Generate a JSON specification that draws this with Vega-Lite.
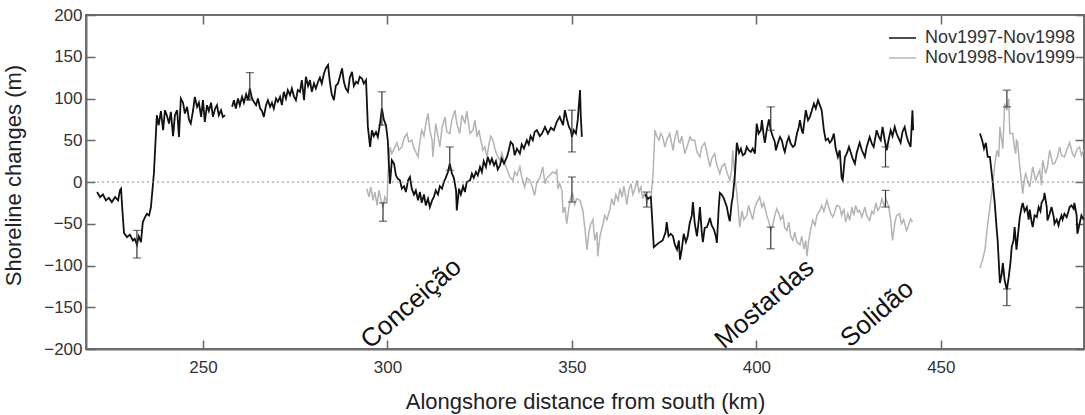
{
  "$schema": "https://vega.github.io/schema/vega-lite/v6.json",
  "width": 998,
  "height": 334,
  "autosize": {"type": "none"},
  "padding": {"left": 86, "top": 15, "right": 1, "bottom": 66},
  "background": "white",
  "config": {
    "font": "Liberation Sans",
    "view": {"stroke": "#6e6e6e", "strokeWidth": 2}
  },
  "datasets": {
    "black": [
      {"period":"Nov1997-Nov1998","seg":"b1","km":221.3,"m":-12},{"period":"Nov1997-Nov1998","seg":"b1","km":222.1,"m":-18},{"period":"Nov1997-Nov1998","seg":"b1","km":222.9,"m":-15},{"period":"Nov1997-Nov1998","seg":"b1","km":223.7,"m":-22},{"period":"Nov1997-Nov1998","seg":"b1","km":224.5,"m":-19},{"period":"Nov1997-Nov1998","seg":"b1","km":225.3,"m":-24},{"period":"Nov1997-Nov1998","seg":"b1","km":226.2,"m":-18},{"period":"Nov1997-Nov1998","seg":"b1","km":227.0,"m":-22},{"period":"Nov1997-Nov1998","seg":"b1","km":227.5,"m":-10},{"period":"Nov1997-Nov1998","seg":"b1","km":227.8,"m":-8},{"period":"Nov1997-Nov1998","seg":"b1","km":228.1,"m":-30},{"period":"Nov1997-Nov1998","seg":"b1","km":228.6,"m":-61},{"period":"Nov1997-Nov1998","seg":"b1","km":229.4,"m":-66},{"period":"Nov1997-Nov1998","seg":"b1","km":230.2,"m":-63},{"period":"Nov1997-Nov1998","seg":"b1","km":231.0,"m":-70},{"period":"Nov1997-Nov1998","seg":"b1","km":231.5,"m":-68},{"period":"Nov1997-Nov1998","seg":"b1","km":232.1,"m":-75},{"period":"Nov1997-Nov1998","seg":"b1","km":232.6,"m":-65},{"period":"Nov1997-Nov1998","seg":"b1","km":233.2,"m":-72},{"period":"Nov1997-Nov1998","seg":"b1","km":233.7,"m":-48},{"period":"Nov1997-Nov1998","seg":"b1","km":234.3,"m":-42},{"period":"Nov1997-Nov1998","seg":"b1","km":234.8,"m":-38},{"period":"Nov1997-Nov1998","seg":"b1","km":235.4,"m":-40},{"period":"Nov1997-Nov1998","seg":"b1","km":235.9,"m":-30},{"period":"Nov1997-Nov1998","seg":"b1","km":236.7,"m":10},{"period":"Nov1997-Nov1998","seg":"b1","km":237.5,"m":80},{"period":"Nov1997-Nov1998","seg":"b1","km":238.0,"m":68},{"period":"Nov1997-Nov1998","seg":"b1","km":238.6,"m":85},{"period":"Nov1997-Nov1998","seg":"b1","km":239.2,"m":62},{"period":"Nov1997-Nov1998","seg":"b1","km":239.7,"m":86},{"period":"Nov1997-Nov1998","seg":"b1","km":240.2,"m":80},{"period":"Nov1997-Nov1998","seg":"b1","km":240.8,"m":70},{"period":"Nov1997-Nov1998","seg":"b1","km":241.3,"m":84},{"period":"Nov1997-Nov1998","seg":"b1","km":241.9,"m":55},{"period":"Nov1997-Nov1998","seg":"b1","km":242.4,"m":80},{"period":"Nov1997-Nov1998","seg":"b1","km":243.0,"m":86},{"period":"Nov1997-Nov1998","seg":"b1","km":243.5,"m":54},{"period":"Nov1997-Nov1998","seg":"b1","km":244.0,"m":100},{"period":"Nov1997-Nov1998","seg":"b1","km":244.6,"m":95},{"period":"Nov1997-Nov1998","seg":"b1","km":245.1,"m":82},{"period":"Nov1997-Nov1998","seg":"b1","km":245.7,"m":90},{"period":"Nov1997-Nov1998","seg":"b1","km":246.2,"m":75},{"period":"Nov1997-Nov1998","seg":"b1","km":246.7,"m":70},{"period":"Nov1997-Nov1998","seg":"b1","km":247.3,"m":85},{"period":"Nov1997-Nov1998","seg":"b1","km":247.8,"m":102},{"period":"Nov1997-Nov1998","seg":"b1","km":248.4,"m":90},{"period":"Nov1997-Nov1998","seg":"b1","km":248.9,"m":95},{"period":"Nov1997-Nov1998","seg":"b1","km":249.5,"m":78},{"period":"Nov1997-Nov1998","seg":"b1","km":250.0,"m":98},{"period":"Nov1997-Nov1998","seg":"b1","km":250.5,"m":72},{"period":"Nov1997-Nov1998","seg":"b1","km":251.1,"m":92},{"period":"Nov1997-Nov1998","seg":"b1","km":251.6,"m":85},{"period":"Nov1997-Nov1998","seg":"b1","km":252.2,"m":95},{"period":"Nov1997-Nov1998","seg":"b1","km":252.7,"m":78},{"period":"Nov1997-Nov1998","seg":"b1","km":253.3,"m":88},{"period":"Nov1997-Nov1998","seg":"b1","km":253.8,"m":92},{"period":"Nov1997-Nov1998","seg":"b1","km":254.3,"m":80},{"period":"Nov1997-Nov1998","seg":"b1","km":254.9,"m":86},{"period":"Nov1997-Nov1998","seg":"b1","km":255.4,"m":78},{"period":"Nov1997-Nov1998","seg":"b1","km":256.0,"m":80},
      {"period":"Nov1997-Nov1998","seg":"b2","km":257.9,"m":90},{"period":"Nov1997-Nov1998","seg":"b2","km":258.4,"m":98},{"period":"Nov1997-Nov1998","seg":"b2","km":258.9,"m":88},{"period":"Nov1997-Nov1998","seg":"b2","km":259.5,"m":100},{"period":"Nov1997-Nov1998","seg":"b2","km":260.0,"m":92},{"period":"Nov1997-Nov1998","seg":"b2","km":260.6,"m":102},{"period":"Nov1997-Nov1998","seg":"b2","km":261.1,"m":95},{"period":"Nov1997-Nov1998","seg":"b2","km":261.7,"m":105},{"period":"Nov1997-Nov1998","seg":"b2","km":262.2,"m":98},{"period":"Nov1997-Nov1998","seg":"b2","km":262.7,"m":112},{"period":"Nov1997-Nov1998","seg":"b2","km":263.3,"m":100},{"period":"Nov1997-Nov1998","seg":"b2","km":263.8,"m":96},{"period":"Nov1997-Nov1998","seg":"b2","km":264.4,"m":92},{"period":"Nov1997-Nov1998","seg":"b2","km":264.9,"m":100},{"period":"Nov1997-Nov1998","seg":"b2","km":265.5,"m":88},{"period":"Nov1997-Nov1998","seg":"b2","km":266.0,"m":85},{"period":"Nov1997-Nov1998","seg":"b2","km":266.5,"m":78},{"period":"Nov1997-Nov1998","seg":"b2","km":267.1,"m":92},{"period":"Nov1997-Nov1998","seg":"b2","km":267.6,"m":98},{"period":"Nov1997-Nov1998","seg":"b2","km":268.2,"m":90},{"period":"Nov1997-Nov1998","seg":"b2","km":268.7,"m":95},{"period":"Nov1997-Nov1998","seg":"b2","km":269.2,"m":88},{"period":"Nov1997-Nov1998","seg":"b2","km":269.8,"m":100},{"period":"Nov1997-Nov1998","seg":"b2","km":270.3,"m":96},{"period":"Nov1997-Nov1998","seg":"b2","km":270.9,"m":102},{"period":"Nov1997-Nov1998","seg":"b2","km":271.4,"m":92},{"period":"Nov1997-Nov1998","seg":"b2","km":271.9,"m":108},{"period":"Nov1997-Nov1998","seg":"b2","km":272.5,"m":100},{"period":"Nov1997-Nov1998","seg":"b2","km":273.0,"m":110},{"period":"Nov1997-Nov1998","seg":"b2","km":273.6,"m":104},{"period":"Nov1997-Nov1998","seg":"b2","km":274.1,"m":112},{"period":"Nov1997-Nov1998","seg":"b2","km":274.7,"m":102},{"period":"Nov1997-Nov1998","seg":"b2","km":275.2,"m":98},{"period":"Nov1997-Nov1998","seg":"b2","km":275.7,"m":110},{"period":"Nov1997-Nov1998","seg":"b2","km":276.3,"m":108},{"period":"Nov1997-Nov1998","seg":"b2","km":276.8,"m":122},{"period":"Nov1997-Nov1998","seg":"b2","km":277.4,"m":98},{"period":"Nov1997-Nov1998","seg":"b2","km":277.9,"m":126},{"period":"Nov1997-Nov1998","seg":"b2","km":278.5,"m":115},{"period":"Nov1997-Nov1998","seg":"b2","km":279.0,"m":122},{"period":"Nov1997-Nov1998","seg":"b2","km":279.5,"m":108},{"period":"Nov1997-Nov1998","seg":"b2","km":280.1,"m":118},{"period":"Nov1997-Nov1998","seg":"b2","km":280.6,"m":112},{"period":"Nov1997-Nov1998","seg":"b2","km":281.2,"m":120},{"period":"Nov1997-Nov1998","seg":"b2","km":281.7,"m":125},{"period":"Nov1997-Nov1998","seg":"b2","km":282.2,"m":118},{"period":"Nov1997-Nov1998","seg":"b2","km":282.8,"m":130},{"period":"Nov1997-Nov1998","seg":"b2","km":283.3,"m":136},{"period":"Nov1997-Nov1998","seg":"b2","km":283.9,"m":140},{"period":"Nov1997-Nov1998","seg":"b2","km":284.4,"m":120},{"period":"Nov1997-Nov1998","seg":"b2","km":284.9,"m":105},{"period":"Nov1997-Nov1998","seg":"b2","km":285.5,"m":98},{"period":"Nov1997-Nov1998","seg":"b2","km":286.0,"m":115},{"period":"Nov1997-Nov1998","seg":"b2","km":286.6,"m":118},{"period":"Nov1997-Nov1998","seg":"b2","km":287.1,"m":126},{"period":"Nov1997-Nov1998","seg":"b2","km":287.7,"m":136},{"period":"Nov1997-Nov1998","seg":"b2","km":288.2,"m":120},{"period":"Nov1997-Nov1998","seg":"b2","km":288.7,"m":112},{"period":"Nov1997-Nov1998","seg":"b2","km":289.3,"m":108},{"period":"Nov1997-Nov1998","seg":"b2","km":289.8,"m":125},{"period":"Nov1997-Nov1998","seg":"b2","km":290.4,"m":132},{"period":"Nov1997-Nov1998","seg":"b2","km":290.9,"m":115},{"period":"Nov1997-Nov1998","seg":"b2","km":291.5,"m":120},{"period":"Nov1997-Nov1998","seg":"b2","km":292.0,"m":118},{"period":"Nov1997-Nov1998","seg":"b2","km":292.5,"m":126},{"period":"Nov1997-Nov1998","seg":"b2","km":293.1,"m":124},{"period":"Nov1997-Nov1998","seg":"b2","km":293.6,"m":118},{"period":"Nov1997-Nov1998","seg":"b2","km":294.2,"m":122},{"period":"Nov1997-Nov1998","seg":"b2","km":294.4,"m":100},{"period":"Nov1997-Nov1998","seg":"b2","km":294.7,"m":66},{"period":"Nov1997-Nov1998","seg":"b2","km":295.3,"m":42},{"period":"Nov1997-Nov1998","seg":"b2","km":295.8,"m":62},{"period":"Nov1997-Nov1998","seg":"b2","km":296.3,"m":55},{"period":"Nov1997-Nov1998","seg":"b2","km":296.9,"m":60},{"period":"Nov1997-Nov1998","seg":"b2","km":297.4,"m":54},{"period":"Nov1997-Nov1998","seg":"b2","km":298.0,"m":70},{"period":"Nov1997-Nov1998","seg":"b2","km":298.5,"m":88},{"period":"Nov1997-Nov1998","seg":"b2","km":299.0,"m":75},{"period":"Nov1997-Nov1998","seg":"b2","km":299.6,"m":68},{"period":"Nov1997-Nov1998","seg":"b2","km":300.1,"m":50},{"period":"Nov1997-Nov1998","seg":"b2","km":300.4,"m":20},{"period":"Nov1997-Nov1998","seg":"b2","km":300.7,"m":-2},{"period":"Nov1997-Nov1998","seg":"b2","km":301.2,"m":26},{"period":"Nov1997-Nov1998","seg":"b2","km":301.8,"m":22},{"period":"Nov1997-Nov1998","seg":"b2","km":302.3,"m":8},{"period":"Nov1997-Nov1998","seg":"b2","km":302.8,"m":4},{"period":"Nov1997-Nov1998","seg":"b2","km":303.4,"m":2},{"period":"Nov1997-Nov1998","seg":"b2","km":303.9,"m":-8},{"period":"Nov1997-Nov1998","seg":"b2","km":304.5,"m":-5},{"period":"Nov1997-Nov1998","seg":"b2","km":305.0,"m":-12},{"period":"Nov1997-Nov1998","seg":"b2","km":305.6,"m":2},{"period":"Nov1997-Nov1998","seg":"b2","km":306.1,"m":6},{"period":"Nov1997-Nov1998","seg":"b2","km":306.6,"m":-8},{"period":"Nov1997-Nov1998","seg":"b2","km":307.2,"m":-15},{"period":"Nov1997-Nov1998","seg":"b2","km":307.7,"m":-10},{"period":"Nov1997-Nov1998","seg":"b2","km":308.3,"m":-22},{"period":"Nov1997-Nov1998","seg":"b2","km":308.8,"m":-12},{"period":"Nov1997-Nov1998","seg":"b2","km":309.3,"m":-25},{"period":"Nov1997-Nov1998","seg":"b2","km":309.9,"m":-15},{"period":"Nov1997-Nov1998","seg":"b2","km":310.4,"m":-28},{"period":"Nov1997-Nov1998","seg":"b2","km":311.0,"m":-20},{"period":"Nov1997-Nov1998","seg":"b2","km":311.5,"m":-30},{"period":"Nov1997-Nov1998","seg":"b2","km":312.1,"m":-22},{"period":"Nov1997-Nov1998","seg":"b2","km":312.6,"m":-18},{"period":"Nov1997-Nov1998","seg":"b2","km":313.1,"m":-10},{"period":"Nov1997-Nov1998","seg":"b2","km":313.7,"m":-15},{"period":"Nov1997-Nov1998","seg":"b2","km":314.2,"m":-5},{"period":"Nov1997-Nov1998","seg":"b2","km":314.8,"m":-8},{"period":"Nov1997-Nov1998","seg":"b2","km":315.3,"m":0},{"period":"Nov1997-Nov1998","seg":"b2","km":315.8,"m":5},{"period":"Nov1997-Nov1998","seg":"b2","km":316.4,"m":12},{"period":"Nov1997-Nov1998","seg":"b2","km":316.9,"m":22},{"period":"Nov1997-Nov1998","seg":"b2","km":317.5,"m":10},{"period":"Nov1997-Nov1998","seg":"b2","km":318.0,"m":5},{"period":"Nov1997-Nov1998","seg":"b2","km":318.6,"m":-10},{"period":"Nov1997-Nov1998","seg":"b2","km":318.8,"m":-34},{"period":"Nov1997-Nov1998","seg":"b2","km":319.4,"m":-8},{"period":"Nov1997-Nov1998","seg":"b2","km":319.9,"m":-15},{"period":"Nov1997-Nov1998","seg":"b2","km":320.5,"m":-5},{"period":"Nov1997-Nov1998","seg":"b2","km":321.0,"m":-12},{"period":"Nov1997-Nov1998","seg":"b2","km":321.5,"m":0},{"period":"Nov1997-Nov1998","seg":"b2","km":322.4,"m":2},{"period":"Nov1997-Nov1998","seg":"b2","km":322.9,"m":10},{"period":"Nov1997-Nov1998","seg":"b2","km":323.4,"m":5},{"period":"Nov1997-Nov1998","seg":"b2","km":324.0,"m":12},{"period":"Nov1997-Nov1998","seg":"b2","km":324.5,"m":8},{"period":"Nov1997-Nov1998","seg":"b2","km":325.1,"m":18},{"period":"Nov1997-Nov1998","seg":"b2","km":325.6,"m":12},{"period":"Nov1997-Nov1998","seg":"b2","km":326.1,"m":25},{"period":"Nov1997-Nov1998","seg":"b2","km":326.7,"m":18},{"period":"Nov1997-Nov1998","seg":"b2","km":327.2,"m":30},{"period":"Nov1997-Nov1998","seg":"b2","km":327.8,"m":22},{"period":"Nov1997-Nov1998","seg":"b2","km":328.3,"m":28},{"period":"Nov1997-Nov1998","seg":"b2","km":328.9,"m":20},{"period":"Nov1997-Nov1998","seg":"b2","km":329.4,"m":25},{"period":"Nov1997-Nov1998","seg":"b2","km":329.9,"m":15},{"period":"Nov1997-Nov1998","seg":"b2","km":330.5,"m":20},{"period":"Nov1997-Nov1998","seg":"b2","km":331.0,"m":28},{"period":"Nov1997-Nov1998","seg":"b2","km":331.6,"m":22},{"period":"Nov1997-Nov1998","seg":"b2","km":332.4,"m":30},{"period":"Nov1997-Nov1998","seg":"b2","km":332.9,"m":38},{"period":"Nov1997-Nov1998","seg":"b2","km":333.4,"m":48},{"period":"Nov1997-Nov1998","seg":"b2","km":334.0,"m":45},{"period":"Nov1997-Nov1998","seg":"b2","km":334.5,"m":32},{"period":"Nov1997-Nov1998","seg":"b2","km":335.1,"m":40},{"period":"Nov1997-Nov1998","seg":"b2","km":335.9,"m":34},{"period":"Nov1997-Nov1998","seg":"b2","km":336.4,"m":45},{"period":"Nov1997-Nov1998","seg":"b2","km":337.0,"m":40},{"period":"Nov1997-Nov1998","seg":"b2","km":337.8,"m":50},{"period":"Nov1997-Nov1998","seg":"b2","km":338.3,"m":45},{"period":"Nov1997-Nov1998","seg":"b2","km":338.8,"m":55},{"period":"Nov1997-Nov1998","seg":"b2","km":339.4,"m":50},{"period":"Nov1997-Nov1998","seg":"b2","km":339.9,"m":60},{"period":"Nov1997-Nov1998","seg":"b2","km":340.5,"m":62},{"period":"Nov1997-Nov1998","seg":"b2","km":341.3,"m":55},{"period":"Nov1997-Nov1998","seg":"b2","km":341.9,"m":58},{"period":"Nov1997-Nov1998","seg":"b2","km":342.7,"m":66},{"period":"Nov1997-Nov1998","seg":"b2","km":343.5,"m":58},{"period":"Nov1997-Nov1998","seg":"b2","km":344.3,"m":65},{"period":"Nov1997-Nov1998","seg":"b2","km":345.1,"m":62},{"period":"Nov1997-Nov1998","seg":"b2","km":345.9,"m":72},{"period":"Nov1997-Nov1998","seg":"b2","km":346.7,"m":78},{"period":"Nov1997-Nov1998","seg":"b2","km":347.6,"m":68},{"period":"Nov1997-Nov1998","seg":"b2","km":348.1,"m":86},{"period":"Nov1997-Nov1998","seg":"b2","km":348.6,"m":76},{"period":"Nov1997-Nov1998","seg":"b2","km":349.2,"m":66},{"period":"Nov1997-Nov1998","seg":"b2","km":349.7,"m":62},{"period":"Nov1997-Nov1998","seg":"b2","km":350.0,"m":54},{"period":"Nov1997-Nov1998","seg":"b2","km":350.5,"m":62},{"period":"Nov1997-Nov1998","seg":"b2","km":351.1,"m":58},{"period":"Nov1997-Nov1998","seg":"b2","km":351.6,"m":75},{"period":"Nov1997-Nov1998","seg":"b2","km":352.2,"m":110},{"period":"Nov1997-Nov1998","seg":"b2","km":352.4,"m":80},{"period":"Nov1997-Nov1998","seg":"b2","km":352.7,"m":54},
      {"period":"Nov1997-Nov1998","seg":"b3","km":369.8,"m":-15},{"period":"Nov1997-Nov1998","seg":"b3","km":370.6,"m":-20},{"period":"Nov1997-Nov1998","seg":"b3","km":371.4,"m":-18},{"period":"Nov1997-Nov1998","seg":"b3","km":372.2,"m":-78},{"period":"Nov1997-Nov1998","seg":"b3","km":373.0,"m":-75},{"period":"Nov1997-Nov1998","seg":"b3","km":373.8,"m":-72},{"period":"Nov1997-Nov1998","seg":"b3","km":374.6,"m":-70},{"period":"Nov1997-Nov1998","seg":"b3","km":375.4,"m":-60},{"period":"Nov1997-Nov1998","seg":"b3","km":375.7,"m":-48},{"period":"Nov1997-Nov1998","seg":"b3","km":376.2,"m":-65},{"period":"Nov1997-Nov1998","seg":"b3","km":376.8,"m":-62},{"period":"Nov1997-Nov1998","seg":"b3","km":377.4,"m":-65},{"period":"Nov1997-Nov1998","seg":"b3","km":377.9,"m":-75},{"period":"Nov1997-Nov1998","seg":"b3","km":378.5,"m":-81},{"period":"Nov1997-Nov1998","seg":"b3","km":379.0,"m":-70},{"period":"Nov1997-Nov1998","seg":"b3","km":379.3,"m":-93},{"period":"Nov1997-Nov1998","seg":"b3","km":379.8,"m":-80},{"period":"Nov1997-Nov1998","seg":"b3","km":380.3,"m":-62},{"period":"Nov1997-Nov1998","seg":"b3","km":380.9,"m":-72},{"period":"Nov1997-Nov1998","seg":"b3","km":381.4,"m":-65},{"period":"Nov1997-Nov1998","seg":"b3","km":381.9,"m":-50},{"period":"Nov1997-Nov1998","seg":"b3","km":382.5,"m":-40},{"period":"Nov1997-Nov1998","seg":"b3","km":382.8,"m":-24},{"period":"Nov1997-Nov1998","seg":"b3","km":383.3,"m":-50},{"period":"Nov1997-Nov1998","seg":"b3","km":383.9,"m":-65},{"period":"Nov1997-Nov1998","seg":"b3","km":384.4,"m":-45},{"period":"Nov1997-Nov1998","seg":"b3","km":384.7,"m":-30},{"period":"Nov1997-Nov1998","seg":"b3","km":385.2,"m":-60},{"period":"Nov1997-Nov1998","seg":"b3","km":385.5,"m":-72},{"period":"Nov1997-Nov1998","seg":"b3","km":386.0,"m":-55},{"period":"Nov1997-Nov1998","seg":"b3","km":386.6,"m":-54},{"period":"Nov1997-Nov1998","seg":"b3","km":387.1,"m":-48},{"period":"Nov1997-Nov1998","seg":"b3","km":387.4,"m":-43},{"period":"Nov1997-Nov1998","seg":"b3","km":387.9,"m":-52},{"period":"Nov1997-Nov1998","seg":"b3","km":388.5,"m":-57},{"period":"Nov1997-Nov1998","seg":"b3","km":389.0,"m":-65},{"period":"Nov1997-Nov1998","seg":"b3","km":389.3,"m":-73},{"period":"Nov1997-Nov1998","seg":"b3","km":389.8,"m":-30},{"period":"Nov1997-Nov1998","seg":"b3","km":390.1,"m":-13},{"period":"Nov1997-Nov1998","seg":"b3","km":390.6,"m":-15},{"period":"Nov1997-Nov1998","seg":"b3","km":391.2,"m":-20},{"period":"Nov1997-Nov1998","seg":"b3","km":392.0,"m":-30},{"period":"Nov1997-Nov1998","seg":"b3","km":392.5,"m":-42},{"period":"Nov1997-Nov1998","seg":"b3","km":392.8,"m":-47},{"period":"Nov1997-Nov1998","seg":"b3","km":393.3,"m":-25},{"period":"Nov1997-Nov1998","seg":"b3","km":393.6,"m":-18},{"period":"Nov1997-Nov1998","seg":"b3","km":394.2,"m":10},{"period":"Nov1997-Nov1998","seg":"b3","km":394.7,"m":47},{"period":"Nov1997-Nov1998","seg":"b3","km":395.3,"m":35},{"period":"Nov1997-Nov1998","seg":"b3","km":395.8,"m":40},{"period":"Nov1997-Nov1998","seg":"b3","km":396.3,"m":32},{"period":"Nov1997-Nov1998","seg":"b3","km":396.9,"m":34},{"period":"Nov1997-Nov1998","seg":"b3","km":397.4,"m":42},{"period":"Nov1997-Nov1998","seg":"b3","km":397.9,"m":38},{"period":"Nov1997-Nov1998","seg":"b3","km":398.5,"m":36},{"period":"Nov1997-Nov1998","seg":"b3","km":399.0,"m":40},{"period":"Nov1997-Nov1998","seg":"b3","km":399.6,"m":34},{"period":"Nov1997-Nov1998","seg":"b3","km":400.1,"m":70},{"period":"Nov1997-Nov1998","seg":"b3","km":400.6,"m":58},{"period":"Nov1997-Nov1998","seg":"b3","km":401.2,"m":62},{"period":"Nov1997-Nov1998","seg":"b3","km":401.5,"m":74},{"period":"Nov1997-Nov1998","seg":"b3","km":402.0,"m":55},{"period":"Nov1997-Nov1998","seg":"b3","km":402.3,"m":47},{"period":"Nov1997-Nov1998","seg":"b3","km":402.8,"m":62},{"period":"Nov1997-Nov1998","seg":"b3","km":403.4,"m":75},{"period":"Nov1997-Nov1998","seg":"b3","km":403.9,"m":62},{"period":"Nov1997-Nov1998","seg":"b3","km":404.4,"m":55},{"period":"Nov1997-Nov1998","seg":"b3","km":405.0,"m":48},{"period":"Nov1997-Nov1998","seg":"b3","km":405.3,"m":38},{"period":"Nov1997-Nov1998","seg":"b3","km":405.8,"m":46},{"period":"Nov1997-Nov1998","seg":"b3","km":406.4,"m":54},{"period":"Nov1997-Nov1998","seg":"b3","km":406.9,"m":50},{"period":"Nov1997-Nov1998","seg":"b3","km":407.4,"m":40},{"period":"Nov1997-Nov1998","seg":"b3","km":407.7,"m":36},{"period":"Nov1997-Nov1998","seg":"b3","km":408.3,"m":48},{"period":"Nov1997-Nov1998","seg":"b3","km":408.8,"m":54},{"period":"Nov1997-Nov1998","seg":"b3","km":409.3,"m":46},{"period":"Nov1997-Nov1998","seg":"b3","km":409.9,"m":42},{"period":"Nov1997-Nov1998","seg":"b3","km":410.4,"m":44},{"period":"Nov1997-Nov1998","seg":"b3","km":411.0,"m":58},{"period":"Nov1997-Nov1998","seg":"b3","km":411.5,"m":66},{"period":"Nov1997-Nov1998","seg":"b3","km":411.8,"m":74},{"period":"Nov1997-Nov1998","seg":"b3","km":412.3,"m":62},{"period":"Nov1997-Nov1998","seg":"b3","km":412.6,"m":58},{"period":"Nov1997-Nov1998","seg":"b3","km":413.1,"m":76},{"period":"Nov1997-Nov1998","seg":"b3","km":413.4,"m":86},{"period":"Nov1997-Nov1998","seg":"b3","km":414.0,"m":74},{"period":"Nov1997-Nov1998","seg":"b3","km":414.5,"m":78},{"period":"Nov1997-Nov1998","seg":"b3","km":415.0,"m":85},{"period":"Nov1997-Nov1998","seg":"b3","km":415.6,"m":94},{"period":"Nov1997-Nov1998","seg":"b3","km":416.1,"m":88},{"period":"Nov1997-Nov1998","seg":"b3","km":416.7,"m":98},{"period":"Nov1997-Nov1998","seg":"b3","km":417.2,"m":92},{"period":"Nov1997-Nov1998","seg":"b3","km":417.7,"m":86},{"period":"Nov1997-Nov1998","seg":"b3","km":418.3,"m":62},{"period":"Nov1997-Nov1998","seg":"b3","km":418.8,"m":50},{"period":"Nov1997-Nov1998","seg":"b3","km":419.4,"m":52},{"period":"Nov1997-Nov1998","seg":"b3","km":419.9,"m":47},{"period":"Nov1997-Nov1998","seg":"b3","km":420.4,"m":50},{"period":"Nov1997-Nov1998","seg":"b3","km":421.0,"m":58},{"period":"Nov1997-Nov1998","seg":"b3","km":421.5,"m":40},{"period":"Nov1997-Nov1998","seg":"b3","km":422.1,"m":30},{"period":"Nov1997-Nov1998","seg":"b3","km":422.6,"m":38},{"period":"Nov1997-Nov1998","seg":"b3","km":423.1,"m":5},{"period":"Nov1997-Nov1998","seg":"b3","km":423.4,"m":2},{"period":"Nov1997-Nov1998","seg":"b3","km":424.0,"m":30},{"period":"Nov1997-Nov1998","seg":"b3","km":424.5,"m":34},{"period":"Nov1997-Nov1998","seg":"b3","km":425.1,"m":42},{"period":"Nov1997-Nov1998","seg":"b3","km":425.6,"m":35},{"period":"Nov1997-Nov1998","seg":"b3","km":426.1,"m":28},{"period":"Nov1997-Nov1998","seg":"b3","km":426.7,"m":22},{"period":"Nov1997-Nov1998","seg":"b3","km":427.2,"m":35},{"period":"Nov1997-Nov1998","seg":"b3","km":428.0,"m":47},{"period":"Nov1997-Nov1998","seg":"b3","km":428.6,"m":38},{"period":"Nov1997-Nov1998","seg":"b3","km":429.4,"m":30},{"period":"Nov1997-Nov1998","seg":"b3","km":429.9,"m":42},{"period":"Nov1997-Nov1998","seg":"b3","km":430.7,"m":54},{"period":"Nov1997-Nov1998","seg":"b3","km":431.3,"m":46},{"period":"Nov1997-Nov1998","seg":"b3","km":431.8,"m":42},{"period":"Nov1997-Nov1998","seg":"b3","km":432.6,"m":62},{"period":"Nov1997-Nov1998","seg":"b3","km":433.2,"m":54},{"period":"Nov1997-Nov1998","seg":"b3","km":433.7,"m":50},{"period":"Nov1997-Nov1998","seg":"b3","km":434.2,"m":66},{"period":"Nov1997-Nov1998","seg":"b3","km":434.8,"m":50},{"period":"Nov1997-Nov1998","seg":"b3","km":435.3,"m":38},{"period":"Nov1997-Nov1998","seg":"b3","km":435.9,"m":52},{"period":"Nov1997-Nov1998","seg":"b3","km":436.4,"m":62},{"period":"Nov1997-Nov1998","seg":"b3","km":436.9,"m":55},{"period":"Nov1997-Nov1998","seg":"b3","km":437.5,"m":66},{"period":"Nov1997-Nov1998","seg":"b3","km":438.0,"m":58},{"period":"Nov1997-Nov1998","seg":"b3","km":438.6,"m":52},{"period":"Nov1997-Nov1998","seg":"b3","km":439.1,"m":47},{"period":"Nov1997-Nov1998","seg":"b3","km":439.6,"m":60},{"period":"Nov1997-Nov1998","seg":"b3","km":440.2,"m":66},{"period":"Nov1997-Nov1998","seg":"b3","km":440.7,"m":55},{"period":"Nov1997-Nov1998","seg":"b3","km":441.2,"m":48},{"period":"Nov1997-Nov1998","seg":"b3","km":441.8,"m":42},{"period":"Nov1997-Nov1998","seg":"b3","km":442.3,"m":86},{"period":"Nov1997-Nov1998","seg":"b3","km":442.5,"m":62},
      {"period":"Nov1997-Nov1998","seg":"b4","km":460.6,"m":58},{"period":"Nov1997-Nov1998","seg":"b4","km":461.2,"m":50},{"period":"Nov1997-Nov1998","seg":"b4","km":461.7,"m":40},{"period":"Nov1997-Nov1998","seg":"b4","km":462.2,"m":47},{"period":"Nov1997-Nov1998","seg":"b4","km":462.7,"m":30},{"period":"Nov1997-Nov1998","seg":"b4","km":463.3,"m":30},{"period":"Nov1997-Nov1998","seg":"b4","km":463.8,"m":10},{"period":"Nov1997-Nov1998","seg":"b4","km":464.1,"m":-2},{"period":"Nov1997-Nov1998","seg":"b4","km":464.6,"m":-25},{"period":"Nov1997-Nov1998","seg":"b4","km":465.2,"m":-60},{"period":"Nov1997-Nov1998","seg":"b4","km":465.4,"m":-70},{"period":"Nov1997-Nov1998","seg":"b4","km":466.0,"m":-121},{"period":"Nov1997-Nov1998","seg":"b4","km":466.5,"m":-110},{"period":"Nov1997-Nov1998","seg":"b4","km":466.8,"m":-97},{"period":"Nov1997-Nov1998","seg":"b4","km":467.3,"m":-118},{"period":"Nov1997-Nov1998","seg":"b4","km":467.9,"m":-129},{"period":"Nov1997-Nov1998","seg":"b4","km":468.4,"m":-114},{"period":"Nov1997-Nov1998","seg":"b4","km":468.9,"m":-95},{"period":"Nov1997-Nov1998","seg":"b4","km":469.2,"m":-78},{"period":"Nov1997-Nov1998","seg":"b4","km":469.7,"m":-70},{"period":"Nov1997-Nov1998","seg":"b4","km":470.0,"m":-54},{"period":"Nov1997-Nov1998","seg":"b4","km":470.5,"m":-81},{"period":"Nov1997-Nov1998","seg":"b4","km":471.1,"m":-55},{"period":"Nov1997-Nov1998","seg":"b4","km":471.4,"m":-42},{"period":"Nov1997-Nov1998","seg":"b4","km":471.9,"m":-30},{"period":"Nov1997-Nov1998","seg":"b4","km":472.2,"m":-25},{"period":"Nov1997-Nov1998","seg":"b4","km":472.7,"m":-35},{"period":"Nov1997-Nov1998","seg":"b4","km":473.3,"m":-30},{"period":"Nov1997-Nov1998","seg":"b4","km":473.8,"m":-45},{"period":"Nov1997-Nov1998","seg":"b4","km":474.1,"m":-33},{"period":"Nov1997-Nov1998","seg":"b4","km":474.6,"m":-48},{"period":"Nov1997-Nov1998","seg":"b4","km":474.9,"m":-54},{"period":"Nov1997-Nov1998","seg":"b4","km":475.4,"m":-40},{"period":"Nov1997-Nov1998","seg":"b4","km":476.0,"m":-42},{"period":"Nov1997-Nov1998","seg":"b4","km":476.5,"m":-30},{"period":"Nov1997-Nov1998","seg":"b4","km":477.0,"m":-35},{"period":"Nov1997-Nov1998","seg":"b4","km":477.3,"m":-25},{"period":"Nov1997-Nov1998","seg":"b4","km":477.9,"m":-20},{"period":"Nov1997-Nov1998","seg":"b4","km":478.1,"m":-13},{"period":"Nov1997-Nov1998","seg":"b4","km":478.7,"m":-30},{"period":"Nov1997-Nov1998","seg":"b4","km":478.9,"m":-46},{"period":"Nov1997-Nov1998","seg":"b4","km":479.5,"m":-38},{"period":"Nov1997-Nov1998","seg":"b4","km":480.0,"m":-30},{"period":"Nov1997-Nov1998","seg":"b4","km":480.6,"m":-42},{"period":"Nov1997-Nov1998","seg":"b4","km":480.8,"m":-50},{"period":"Nov1997-Nov1998","seg":"b4","km":481.4,"m":-45},{"period":"Nov1997-Nov1998","seg":"b4","km":481.9,"m":-52},{"period":"Nov1997-Nov1998","seg":"b4","km":482.2,"m":-46},{"period":"Nov1997-Nov1998","seg":"b4","km":482.7,"m":-40},{"period":"Nov1997-Nov1998","seg":"b4","km":483.0,"m":-45},{"period":"Nov1997-Nov1998","seg":"b4","km":483.5,"m":-38},{"period":"Nov1997-Nov1998","seg":"b4","km":484.1,"m":-42},{"period":"Nov1997-Nov1998","seg":"b4","km":484.6,"m":-35},{"period":"Nov1997-Nov1998","seg":"b4","km":484.9,"m":-30},{"period":"Nov1997-Nov1998","seg":"b4","km":485.4,"m":-28},{"period":"Nov1997-Nov1998","seg":"b4","km":486.0,"m":-32},{"period":"Nov1997-Nov1998","seg":"b4","km":486.2,"m":-25},{"period":"Nov1997-Nov1998","seg":"b4","km":486.8,"m":-40},{"period":"Nov1997-Nov1998","seg":"b4","km":487.0,"m":-62},{"period":"Nov1997-Nov1998","seg":"b4","km":487.6,"m":-50},{"period":"Nov1997-Nov1998","seg":"b4","km":488.1,"m":-40},{"period":"Nov1997-Nov1998","seg":"b4","km":488.7,"m":-45}
    ],
    "gray": [
      {"period":"Nov1998-Nov1999","seg":"g1","km":294.4,"m":-8},{"period":"Nov1998-Nov1999","seg":"g1","km":295.0,"m":-18},{"period":"Nov1998-Nov1999","seg":"g1","km":295.5,"m":-6},{"period":"Nov1998-Nov1999","seg":"g1","km":296.1,"m":-22},{"period":"Nov1998-Nov1999","seg":"g1","km":296.6,"m":-12},{"period":"Nov1998-Nov1999","seg":"g1","km":297.2,"m":-28},{"period":"Nov1998-Nov1999","seg":"g1","km":297.7,"m":-10},{"period":"Nov1998-Nov1999","seg":"g1","km":298.2,"m":-20},{"period":"Nov1998-Nov1999","seg":"g1","km":298.8,"m":-30},{"period":"Nov1998-Nov1999","seg":"g1","km":299.3,"m":-18},{"period":"Nov1998-Nov1999","seg":"g1","km":299.9,"m":-25},{"period":"Nov1998-Nov1999","seg":"g1","km":300.1,"m":5},{"period":"Nov1998-Nov1999","seg":"g1","km":300.7,"m":42},{"period":"Nov1998-Nov1999","seg":"g1","km":301.2,"m":34},{"period":"Nov1998-Nov1999","seg":"g1","km":301.8,"m":40},{"period":"Nov1998-Nov1999","seg":"g1","km":302.6,"m":47},{"period":"Nov1998-Nov1999","seg":"g1","km":303.1,"m":38},{"period":"Nov1998-Nov1999","seg":"g1","km":303.9,"m":42},{"period":"Nov1998-Nov1999","seg":"g1","km":304.5,"m":52},{"period":"Nov1998-Nov1999","seg":"g1","km":305.3,"m":58},{"period":"Nov1998-Nov1999","seg":"g1","km":305.8,"m":48},{"period":"Nov1998-Nov1999","seg":"g1","km":306.6,"m":50},{"period":"Nov1998-Nov1999","seg":"g1","km":307.2,"m":40},{"period":"Nov1998-Nov1999","seg":"g1","km":307.7,"m":36},{"period":"Nov1998-Nov1999","seg":"g1","km":308.3,"m":30},{"period":"Nov1998-Nov1999","seg":"g1","km":308.8,"m":48},{"period":"Nov1998-Nov1999","seg":"g1","km":309.3,"m":62},{"period":"Nov1998-Nov1999","seg":"g1","km":309.9,"m":55},{"period":"Nov1998-Nov1999","seg":"g1","km":310.4,"m":70},{"period":"Nov1998-Nov1999","seg":"g1","km":311.0,"m":82},{"period":"Nov1998-Nov1999","seg":"g1","km":311.5,"m":62},{"period":"Nov1998-Nov1999","seg":"g1","km":312.1,"m":50},{"period":"Nov1998-Nov1999","seg":"g1","km":312.3,"m":30},{"period":"Nov1998-Nov1999","seg":"g1","km":312.6,"m":45},{"period":"Nov1998-Nov1999","seg":"g1","km":313.1,"m":70},{"period":"Nov1998-Nov1999","seg":"g1","km":313.7,"m":55},{"period":"Nov1998-Nov1999","seg":"g1","km":314.2,"m":42},{"period":"Nov1998-Nov1999","seg":"g1","km":314.8,"m":65},{"period":"Nov1998-Nov1999","seg":"g1","km":315.6,"m":78},{"period":"Nov1998-Nov1999","seg":"g1","km":316.1,"m":60},{"period":"Nov1998-Nov1999","seg":"g1","km":316.9,"m":58},{"period":"Nov1998-Nov1999","seg":"g1","km":317.5,"m":75},{"period":"Nov1998-Nov1999","seg":"g1","km":318.3,"m":86},{"period":"Nov1998-Nov1999","seg":"g1","km":318.8,"m":70},{"period":"Nov1998-Nov1999","seg":"g1","km":319.6,"m":58},{"period":"Nov1998-Nov1999","seg":"g1","km":320.2,"m":80},{"period":"Nov1998-Nov1999","seg":"g1","km":321.0,"m":70},{"period":"Nov1998-Nov1999","seg":"g1","km":321.5,"m":85},{"period":"Nov1998-Nov1999","seg":"g1","km":322.4,"m":58},{"period":"Nov1998-Nov1999","seg":"g1","km":323.2,"m":62},{"period":"Nov1998-Nov1999","seg":"g1","km":323.7,"m":74},{"period":"Nov1998-Nov1999","seg":"g1","km":324.3,"m":54},{"period":"Nov1998-Nov1999","seg":"g1","km":324.8,"m":62},{"period":"Nov1998-Nov1999","seg":"g1","km":325.3,"m":50},{"period":"Nov1998-Nov1999","seg":"g1","km":325.9,"m":38},{"period":"Nov1998-Nov1999","seg":"g1","km":326.4,"m":42},{"period":"Nov1998-Nov1999","seg":"g1","km":327.0,"m":30},{"period":"Nov1998-Nov1999","seg":"g1","km":327.5,"m":45},{"period":"Nov1998-Nov1999","seg":"g1","km":328.0,"m":55},{"period":"Nov1998-Nov1999","seg":"g1","km":328.6,"m":50},{"period":"Nov1998-Nov1999","seg":"g1","km":329.1,"m":40},{"period":"Nov1998-Nov1999","seg":"g1","km":329.7,"m":32},{"period":"Nov1998-Nov1999","seg":"g1","km":330.5,"m":26},{"period":"Nov1998-Nov1999","seg":"g1","km":331.0,"m":35},{"period":"Nov1998-Nov1999","seg":"g1","km":331.8,"m":22},{"period":"Nov1998-Nov1999","seg":"g1","km":332.4,"m":15},{"period":"Nov1998-Nov1999","seg":"g1","km":333.2,"m":6},{"period":"Nov1998-Nov1999","seg":"g1","km":334.0,"m":2},{"period":"Nov1998-Nov1999","seg":"g1","km":334.5,"m":12},{"period":"Nov1998-Nov1999","seg":"g1","km":335.1,"m":8},{"period":"Nov1998-Nov1999","seg":"g1","km":335.9,"m":18},{"period":"Nov1998-Nov1999","seg":"g1","km":336.4,"m":6},{"period":"Nov1998-Nov1999","seg":"g1","km":337.2,"m":-6},{"period":"Nov1998-Nov1999","seg":"g1","km":337.8,"m":5},{"period":"Nov1998-Nov1999","seg":"g1","km":338.6,"m":2},{"period":"Nov1998-Nov1999","seg":"g1","km":339.2,"m":-5},{"period":"Nov1998-Nov1999","seg":"g1","km":339.9,"m":-16},{"period":"Nov1998-Nov1999","seg":"g1","km":340.5,"m":0},{"period":"Nov1998-Nov1999","seg":"g1","km":341.3,"m":5},{"period":"Nov1998-Nov1999","seg":"g1","km":342.1,"m":18},{"period":"Nov1998-Nov1999","seg":"g1","km":342.7,"m":-2},{"period":"Nov1998-Nov1999","seg":"g1","km":343.2,"m":5},{"period":"Nov1998-Nov1999","seg":"g1","km":344.0,"m":8},{"period":"Nov1998-Nov1999","seg":"g1","km":344.8,"m":12},{"period":"Nov1998-Nov1999","seg":"g1","km":345.4,"m":10},{"period":"Nov1998-Nov1999","seg":"g1","km":345.9,"m":14},{"period":"Nov1998-Nov1999","seg":"g1","km":346.2,"m":-8},{"period":"Nov1998-Nov1999","seg":"g1","km":346.7,"m":-2},{"period":"Nov1998-Nov1999","seg":"g1","km":347.3,"m":-10},{"period":"Nov1998-Nov1999","seg":"g1","km":347.6,"m":-37},{"period":"Nov1998-Nov1999","seg":"g1","km":348.1,"m":-30},{"period":"Nov1998-Nov1999","seg":"g1","km":348.6,"m":-50},{"period":"Nov1998-Nov1999","seg":"g1","km":349.2,"m":-30},{"period":"Nov1998-Nov1999","seg":"g1","km":349.7,"m":-18},{"period":"Nov1998-Nov1999","seg":"g1","km":350.2,"m":-14},{"period":"Nov1998-Nov1999","seg":"g1","km":350.8,"m":-27},{"period":"Nov1998-Nov1999","seg":"g1","km":351.3,"m":-20},{"period":"Nov1998-Nov1999","seg":"g1","km":352.2,"m":-22},{"period":"Nov1998-Nov1999","seg":"g1","km":353.0,"m":-35},{"period":"Nov1998-Nov1999","seg":"g1","km":353.5,"m":-55},{"period":"Nov1998-Nov1999","seg":"g1","km":354.1,"m":-81},{"period":"Nov1998-Nov1999","seg":"g1","km":354.6,"m":-60},{"period":"Nov1998-Nov1999","seg":"g1","km":355.1,"m":-50},{"period":"Nov1998-Nov1999","seg":"g1","km":355.7,"m":-45},{"period":"Nov1998-Nov1999","seg":"g1","km":356.2,"m":-70},{"period":"Nov1998-Nov1999","seg":"g1","km":356.8,"m":-60},{"period":"Nov1998-Nov1999","seg":"g1","km":357.0,"m":-89},{"period":"Nov1998-Nov1999","seg":"g1","km":357.6,"m":-65},{"period":"Nov1998-Nov1999","seg":"g1","km":358.4,"m":-51},{"period":"Nov1998-Nov1999","seg":"g1","km":358.9,"m":-40},{"period":"Nov1998-Nov1999","seg":"g1","km":359.5,"m":-45},{"period":"Nov1998-Nov1999","seg":"g1","km":360.3,"m":-33},{"period":"Nov1998-Nov1999","seg":"g1","km":360.8,"m":-20},{"period":"Nov1998-Nov1999","seg":"g1","km":361.4,"m":-28},{"period":"Nov1998-Nov1999","seg":"g1","km":361.9,"m":-15},{"period":"Nov1998-Nov1999","seg":"g1","km":362.5,"m":-22},{"period":"Nov1998-Nov1999","seg":"g1","km":363.0,"m":-8},{"period":"Nov1998-Nov1999","seg":"g1","km":363.6,"m":-18},{"period":"Nov1998-Nov1999","seg":"g1","km":364.1,"m":-5},{"period":"Nov1998-Nov1999","seg":"g1","km":364.9,"m":-27},{"period":"Nov1998-Nov1999","seg":"g1","km":365.4,"m":-10},{"period":"Nov1998-Nov1999","seg":"g1","km":366.0,"m":-2},{"period":"Nov1998-Nov1999","seg":"g1","km":366.5,"m":-15},{"period":"Nov1998-Nov1999","seg":"g1","km":367.1,"m":-8},{"period":"Nov1998-Nov1999","seg":"g1","km":367.6,"m":2},{"period":"Nov1998-Nov1999","seg":"g1","km":368.2,"m":-12},{"period":"Nov1998-Nov1999","seg":"g1","km":368.7,"m":-6},{"period":"Nov1998-Nov1999","seg":"g1","km":369.2,"m":-20},{"period":"Nov1998-Nov1999","seg":"g1","km":369.8,"m":-12},{"period":"Nov1998-Nov1999","seg":"g1","km":370.3,"m":-25},{"period":"Nov1998-Nov1999","seg":"g1","km":370.9,"m":-18},{"period":"Nov1998-Nov1999","seg":"g1","km":371.4,"m":-20},{"period":"Nov1998-Nov1999","seg":"g1","km":372.0,"m":10},{"period":"Nov1998-Nov1999","seg":"g1","km":372.5,"m":62},{"period":"Nov1998-Nov1999","seg":"g1","km":373.0,"m":55},{"period":"Nov1998-Nov1999","seg":"g1","km":373.6,"m":50},{"period":"Nov1998-Nov1999","seg":"g1","km":374.1,"m":58},{"period":"Nov1998-Nov1999","seg":"g1","km":374.6,"m":54},{"period":"Nov1998-Nov1999","seg":"g1","km":375.2,"m":42},{"period":"Nov1998-Nov1999","seg":"g1","km":375.7,"m":50},{"period":"Nov1998-Nov1999","seg":"g1","km":376.5,"m":58},{"period":"Nov1998-Nov1999","seg":"g1","km":377.1,"m":45},{"period":"Nov1998-Nov1999","seg":"g1","km":377.4,"m":38},{"period":"Nov1998-Nov1999","seg":"g1","km":377.9,"m":52},{"period":"Nov1998-Nov1999","seg":"g1","km":378.5,"m":62},{"period":"Nov1998-Nov1999","seg":"g1","km":379.0,"m":48},{"period":"Nov1998-Nov1999","seg":"g1","km":379.3,"m":47},{"period":"Nov1998-Nov1999","seg":"g1","km":379.8,"m":55},{"period":"Nov1998-Nov1999","seg":"g1","km":380.6,"m":34},{"period":"Nov1998-Nov1999","seg":"g1","km":381.2,"m":42},{"period":"Nov1998-Nov1999","seg":"g1","km":382.0,"m":54},{"period":"Nov1998-Nov1999","seg":"g1","km":382.5,"m":50},{"period":"Nov1998-Nov1999","seg":"g1","km":383.3,"m":50},{"period":"Nov1998-Nov1999","seg":"g1","km":383.9,"m":36},{"period":"Nov1998-Nov1999","seg":"g1","km":384.7,"m":30},{"period":"Nov1998-Nov1999","seg":"g1","km":385.2,"m":42},{"period":"Nov1998-Nov1999","seg":"g1","km":386.0,"m":47},{"period":"Nov1998-Nov1999","seg":"g1","km":386.6,"m":35},{"period":"Nov1998-Nov1999","seg":"g1","km":387.4,"m":18},{"period":"Nov1998-Nov1999","seg":"g1","km":387.9,"m":28},{"period":"Nov1998-Nov1999","seg":"g1","km":388.7,"m":34},{"period":"Nov1998-Nov1999","seg":"g1","km":389.3,"m":20},{"period":"Nov1998-Nov1999","seg":"g1","km":390.1,"m":10},{"period":"Nov1998-Nov1999","seg":"g1","km":390.6,"m":18},{"period":"Nov1998-Nov1999","seg":"g1","km":391.4,"m":22},{"period":"Nov1998-Nov1999","seg":"g1","km":392.0,"m":12},{"period":"Nov1998-Nov1999","seg":"g1","km":392.8,"m":2},{"period":"Nov1998-Nov1999","seg":"g1","km":393.3,"m":15},{"period":"Nov1998-Nov1999","seg":"g1","km":393.6,"m":38},{"period":"Nov1998-Nov1999","seg":"g1","km":394.2,"m":5},{"period":"Nov1998-Nov1999","seg":"g1","km":394.7,"m":-13},{"period":"Nov1998-Nov1999","seg":"g1","km":395.5,"m":-54},{"period":"Nov1998-Nov1999","seg":"g1","km":396.1,"m":-35},{"period":"Nov1998-Nov1999","seg":"g1","km":396.6,"m":-45},{"period":"Nov1998-Nov1999","seg":"g1","km":397.4,"m":-40},{"period":"Nov1998-Nov1999","seg":"g1","km":397.9,"m":-28},{"period":"Nov1998-Nov1999","seg":"g1","km":398.5,"m":-38},{"period":"Nov1998-Nov1999","seg":"g1","km":399.0,"m":-45},{"period":"Nov1998-Nov1999","seg":"g1","km":399.6,"m":-30},{"period":"Nov1998-Nov1999","seg":"g1","km":400.1,"m":-25},{"period":"Nov1998-Nov1999","seg":"g1","km":400.9,"m":-18},{"period":"Nov1998-Nov1999","seg":"g1","km":401.5,"m":-30},{"period":"Nov1998-Nov1999","seg":"g1","km":402.0,"m":-25},{"period":"Nov1998-Nov1999","seg":"g1","km":402.8,"m":-40},{"period":"Nov1998-Nov1999","seg":"g1","km":403.4,"m":-48},{"period":"Nov1998-Nov1999","seg":"g1","km":403.9,"m":-58},{"period":"Nov1998-Nov1999","seg":"g1","km":404.4,"m":-52},{"period":"Nov1998-Nov1999","seg":"g1","km":405.0,"m":-40},{"period":"Nov1998-Nov1999","seg":"g1","km":405.5,"m":-32},{"period":"Nov1998-Nov1999","seg":"g1","km":406.1,"m":-38},{"period":"Nov1998-Nov1999","seg":"g1","km":406.6,"m":-45},{"period":"Nov1998-Nov1999","seg":"g1","km":407.2,"m":-40},{"period":"Nov1998-Nov1999","seg":"g1","km":407.7,"m":-55},{"period":"Nov1998-Nov1999","seg":"g1","km":408.3,"m":-58},{"period":"Nov1998-Nov1999","seg":"g1","km":408.8,"m":-48},{"period":"Nov1998-Nov1999","seg":"g1","km":409.3,"m":-65},{"period":"Nov1998-Nov1999","seg":"g1","km":409.9,"m":-70},{"period":"Nov1998-Nov1999","seg":"g1","km":410.4,"m":-60},{"period":"Nov1998-Nov1999","seg":"g1","km":411.0,"m":-72},{"period":"Nov1998-Nov1999","seg":"g1","km":411.8,"m":-75},{"period":"Nov1998-Nov1999","seg":"g1","km":412.3,"m":-65},{"period":"Nov1998-Nov1999","seg":"g1","km":412.9,"m":-80},{"period":"Nov1998-Nov1999","seg":"g1","km":413.4,"m":-70},{"period":"Nov1998-Nov1999","seg":"g1","km":413.7,"m":-89},{"period":"Nov1998-Nov1999","seg":"g1","km":414.2,"m":-70},{"period":"Nov1998-Nov1999","seg":"g1","km":414.8,"m":-55},{"period":"Nov1998-Nov1999","seg":"g1","km":415.3,"m":-46},{"period":"Nov1998-Nov1999","seg":"g1","km":415.9,"m":-52},{"period":"Nov1998-Nov1999","seg":"g1","km":416.4,"m":-40},{"period":"Nov1998-Nov1999","seg":"g1","km":417.2,"m":-34},{"period":"Nov1998-Nov1999","seg":"g1","km":417.7,"m":-28},{"period":"Nov1998-Nov1999","seg":"g1","km":418.3,"m":-35},{"period":"Nov1998-Nov1999","seg":"g1","km":419.1,"m":-22},{"period":"Nov1998-Nov1999","seg":"g1","km":419.6,"m":-30},{"period":"Nov1998-Nov1999","seg":"g1","km":420.2,"m":-38},{"period":"Nov1998-Nov1999","seg":"g1","km":420.7,"m":-42},{"period":"Nov1998-Nov1999","seg":"g1","km":421.3,"m":-35},{"period":"Nov1998-Nov1999","seg":"g1","km":421.8,"m":-28},{"period":"Nov1998-Nov1999","seg":"g1","km":422.6,"m":-30},{"period":"Nov1998-Nov1999","seg":"g1","km":423.1,"m":-40},{"period":"Nov1998-Nov1999","seg":"g1","km":423.7,"m":-32},{"period":"Nov1998-Nov1999","seg":"g1","km":424.2,"m":-48},{"period":"Nov1998-Nov1999","seg":"g1","km":424.8,"m":-38},{"period":"Nov1998-Nov1999","seg":"g1","km":425.3,"m":-46},{"period":"Nov1998-Nov1999","seg":"g1","km":425.9,"m":-30},{"period":"Nov1998-Nov1999","seg":"g1","km":426.4,"m":-40},{"period":"Nov1998-Nov1999","seg":"g1","km":426.9,"m":-28},{"period":"Nov1998-Nov1999","seg":"g1","km":427.5,"m":-36},{"period":"Nov1998-Nov1999","seg":"g1","km":428.0,"m":-34},{"period":"Nov1998-Nov1999","seg":"g1","km":428.6,"m":-42},{"period":"Nov1998-Nov1999","seg":"g1","km":429.4,"m":-30},{"period":"Nov1998-Nov1999","seg":"g1","km":429.9,"m":-40},{"period":"Nov1998-Nov1999","seg":"g1","km":430.7,"m":-46},{"period":"Nov1998-Nov1999","seg":"g1","km":431.3,"m":-35},{"period":"Nov1998-Nov1999","seg":"g1","km":431.8,"m":-38},{"period":"Nov1998-Nov1999","seg":"g1","km":432.4,"m":-25},{"period":"Nov1998-Nov1999","seg":"g1","km":432.9,"m":-34},{"period":"Nov1998-Nov1999","seg":"g1","km":433.5,"m":-30},{"period":"Nov1998-Nov1999","seg":"g1","km":434.0,"m":-20},{"period":"Nov1998-Nov1999","seg":"g1","km":434.6,"m":-28},{"period":"Nov1998-Nov1999","seg":"g1","km":435.3,"m":-22},{"period":"Nov1998-Nov1999","seg":"g1","km":435.9,"m":-30},{"period":"Nov1998-Nov1999","seg":"g1","km":436.4,"m":-45},{"period":"Nov1998-Nov1999","seg":"g1","km":436.9,"m":-70},{"period":"Nov1998-Nov1999","seg":"g1","km":437.5,"m":-50},{"period":"Nov1998-Nov1999","seg":"g1","km":438.0,"m":-40},{"period":"Nov1998-Nov1999","seg":"g1","km":438.8,"m":-38},{"period":"Nov1998-Nov1999","seg":"g1","km":439.3,"m":-50},{"period":"Nov1998-Nov1999","seg":"g1","km":439.9,"m":-45},{"period":"Nov1998-Nov1999","seg":"g1","km":440.7,"m":-58},{"period":"Nov1998-Nov1999","seg":"g1","km":441.2,"m":-52},{"period":"Nov1998-Nov1999","seg":"g1","km":441.8,"m":-44},{"period":"Nov1998-Nov1999","seg":"g1","km":442.3,"m":-48},
      {"period":"Nov1998-Nov1999","seg":"g2","km":460.6,"m":-103},{"period":"Nov1998-Nov1999","seg":"g2","km":461.4,"m":-92},{"period":"Nov1998-Nov1999","seg":"g2","km":462.0,"m":-80},{"period":"Nov1998-Nov1999","seg":"g2","km":462.5,"m":-58},{"period":"Nov1998-Nov1999","seg":"g2","km":463.3,"m":-30},{"period":"Nov1998-Nov1999","seg":"g2","km":464.1,"m":-2},{"period":"Nov1998-Nov1999","seg":"g2","km":464.6,"m":20},{"period":"Nov1998-Nov1999","seg":"g2","km":465.2,"m":38},{"period":"Nov1998-Nov1999","seg":"g2","km":465.7,"m":30},{"period":"Nov1998-Nov1999","seg":"g2","km":466.0,"m":66},{"period":"Nov1998-Nov1999","seg":"g2","km":466.5,"m":50},{"period":"Nov1998-Nov1999","seg":"g2","km":466.8,"m":40},{"period":"Nov1998-Nov1999","seg":"g2","km":467.3,"m":94},{"period":"Nov1998-Nov1999","seg":"g2","km":467.9,"m":86},{"period":"Nov1998-Nov1999","seg":"g2","km":468.4,"m":100},{"period":"Nov1998-Nov1999","seg":"g2","km":468.7,"m":58},{"period":"Nov1998-Nov1999","seg":"g2","km":469.5,"m":58},{"period":"Nov1998-Nov1999","seg":"g2","km":470.0,"m":40},{"period":"Nov1998-Nov1999","seg":"g2","km":470.3,"m":34},{"period":"Nov1998-Nov1999","seg":"g2","km":470.5,"m":50},{"period":"Nov1998-Nov1999","seg":"g2","km":470.8,"m":48},{"period":"Nov1998-Nov1999","seg":"g2","km":471.4,"m":18},{"period":"Nov1998-Nov1999","seg":"g2","km":472.2,"m":-14},{"period":"Nov1998-Nov1999","seg":"g2","km":472.7,"m":5},{"period":"Nov1998-Nov1999","seg":"g2","km":473.0,"m":10},{"period":"Nov1998-Nov1999","seg":"g2","km":473.6,"m":0},{"period":"Nov1998-Nov1999","seg":"g2","km":474.1,"m":-6},{"period":"Nov1998-Nov1999","seg":"g2","km":474.9,"m":18},{"period":"Nov1998-Nov1999","seg":"g2","km":475.7,"m":2},{"period":"Nov1998-Nov1999","seg":"g2","km":476.2,"m":8},{"period":"Nov1998-Nov1999","seg":"g2","km":476.8,"m":14},{"period":"Nov1998-Nov1999","seg":"g2","km":477.3,"m":-4},{"period":"Nov1998-Nov1999","seg":"g2","km":477.6,"m":26},{"period":"Nov1998-Nov1999","seg":"g2","km":478.4,"m":10},{"period":"Nov1998-Nov1999","seg":"g2","km":478.9,"m":18},{"period":"Nov1998-Nov1999","seg":"g2","km":479.5,"m":38},{"period":"Nov1998-Nov1999","seg":"g2","km":480.3,"m":22},{"period":"Nov1998-Nov1999","seg":"g2","km":480.8,"m":22},{"period":"Nov1998-Nov1999","seg":"g2","km":481.6,"m":30},{"period":"Nov1998-Nov1999","seg":"g2","km":482.2,"m":42},{"period":"Nov1998-Nov1999","seg":"g2","km":482.7,"m":32},{"period":"Nov1998-Nov1999","seg":"g2","km":483.5,"m":30},{"period":"Nov1998-Nov1999","seg":"g2","km":484.1,"m":38},{"period":"Nov1998-Nov1999","seg":"g2","km":484.9,"m":47},{"period":"Nov1998-Nov1999","seg":"g2","km":485.7,"m":34},{"period":"Nov1998-Nov1999","seg":"g2","km":486.2,"m":30},{"period":"Nov1998-Nov1999","seg":"g2","km":487.0,"m":40},{"period":"Nov1998-Nov1999","seg":"g2","km":487.6,"m":42},{"period":"Nov1998-Nov1999","seg":"g2","km":488.1,"m":32},{"period":"Nov1998-Nov1999","seg":"g2","km":488.7,"m":38}
    ],
    "errbars": [
      {"km":232.1,"hi":-58,"lo":-91},{"km":262.7,"hi":131,"lo":98},{"km":298.5,"hi":108,"lo":68},{"km":298.8,"hi":-25,"lo":-47},{"km":316.9,"hi":42,"lo":14},{"km":350.0,"hi":86,"lo":36},{"km":350.0,"hi":6,"lo":-24},{"km":370.3,"hi":-12,"lo":-30},{"km":403.9,"hi":90,"lo":62},{"km":403.9,"hi":-54,"lo":-80},{"km":435.0,"hi":42,"lo":18},{"km":435.0,"hi":-10,"lo":-30},{"km":467.9,"hi":110,"lo":90},{"km":467.9,"hi":-128,"lo":-148}
    ],
    "places": [
      {"name":"Conceição","km":295.3,"m":-201},{"name":"Mostardas","km":391.2,"m":-201},{"name":"Solidão","km":425.3,"m":-199}
    ]
  },
  "resolve": {"axis": {"x": "independent", "y": "independent"}},
  "layer": [
    {
      "data": {"name": "gray"},
      "mark": {"type": "line", "strokeWidth": 1.5},
      "encoding": {
        "x": {"field": "km", "type": "quantitative",
              "scale": {"domain": [218.3, 488.8], "nice": false, "zero": false},
              "axis": {"orient": "bottom", "values": [250, 300, 350, 400, 450], "ticks": false,
                       "domainColor": "#6e6e6e", "domainWidth": 2, "grid": false, "labelFontSize": 17, "labelColor": "#333", "labelPadding": 10,
                       "labelFont": "Liberation Sans", "labelFlush": false,
                       "title": "Alongshore distance from south (km)", "titleFontSize": 22, "titleFontWeight": "normal", "titleColor": "#222", "titleFont": "Liberation Sans", "titlePadding": 16}},
        "y": {"field": "m", "type": "quantitative",
              "scale": {"domain": [-200, 200], "nice": false},
              "axis": {"orient": "left", "values": [-200, -150, -100, -50, 0, 50, 100, 150, 200], "ticks": false,
                       "domainColor": "#6e6e6e", "domainWidth": 2, "grid": false, "labelFontSize": 17, "labelColor": "#333", "labelPadding": 4,
                       "labelFont": "Liberation Sans", "labelFlush": false,
                       "title": "Shoreline changes (m)", "titleFontSize": 22, "titleFontWeight": "normal", "titleColor": "#222", "titleFont": "Liberation Sans", "titlePadding": 18, "titleY": 160}},
        "color": {"field": "period", "type": "nominal",
                  "scale": {"domain": ["Nov1997-Nov1998", "Nov1998-Nov1999"], "range": ["#111111", "#b4b4b4"]},
                  "legend": {"orient": "none", "legendX": 802, "legendY": 14, "title": null, "symbolType": "stroke", "symbolSize": 729,
                             "symbolStrokeWidth": 1.5, "labelFontSize": 18, "labelFont": "Liberation Sans", "labelColor": "#333",
                             "rowPadding": 2, "padding": 0, "labelOffset": 8, "clipHeight": 18}},
        "detail": {"field": "seg"}
      }
    },
    {
      "data": {"name": "black"},
      "mark": {"type": "line", "strokeWidth": 1.8},
      "encoding": {
        "x": {"field": "km", "type": "quantitative", "axis": null},
        "y": {"field": "m", "type": "quantitative", "axis": null},
        "color": {"field": "period", "type": "nominal"},
        "detail": {"field": "seg"}
      }
    },
    {
      "data": {"values": [{"zero": 0}]},
      "mark": {"type": "rule", "color": "#888", "strokeDash": [2, 3], "strokeWidth": 1},
      "encoding": {"y": {"field": "zero", "type": "quantitative", "axis": null}}
    },
    {
      "data": {"name": "errbars"},
      "mark": {"type": "rule", "color": "#333", "strokeWidth": 1.2},
      "encoding": {
        "x": {"field": "km", "type": "quantitative",
              "axis": {"orient": "top", "offset": -334, "values": [250, 300, 350, 400, 450], "tickSize": 9, "tickColor": "#666", "tickWidth": 1.5, "labels": false, "domain": false, "grid": false, "title": null}},
        "y": {"field": "hi", "type": "quantitative",
              "axis": {"orient": "right", "offset": -998, "values": [-200, -150, -100, -50, 0, 50, 100, 150, 200], "tickSize": 9, "tickColor": "#666", "tickWidth": 1.5, "labels": false, "domain": false, "grid": false, "title": null}},
        "y2": {"field": "lo"}
      }
    },
    {
      "data": {"name": "errbars"},
      "mark": {"type": "tick", "orient": "horizontal", "size": 8, "thickness": 1.2, "color": "#333"},
      "encoding": {
        "x": {"field": "km", "type": "quantitative",
              "axis": {"orient": "bottom", "offset": -334, "values": [250, 300, 350, 400, 450], "tickSize": 9, "tickColor": "#666", "tickWidth": 1.5, "labels": false, "domain": false, "grid": false, "title": null}},
        "y": {"field": "hi", "type": "quantitative",
              "axis": {"orient": "left", "offset": -998, "values": [-200, -150, -100, -50, 0, 50, 100, 150, 200], "tickSize": 9, "tickColor": "#666", "tickWidth": 1.5, "labels": false, "domain": false, "grid": false, "title": null}}
      }
    },
    {
      "data": {"name": "errbars"},
      "mark": {"type": "tick", "orient": "horizontal", "size": 8, "thickness": 1.2, "color": "#333"},
      "encoding": {
        "x": {"field": "km", "type": "quantitative", "axis": null},
        "y": {"field": "lo", "type": "quantitative", "axis": null}
      }
    },
    {
      "data": {"name": "places"},
      "mark": {"type": "text", "angle": -41, "align": "left", "baseline": "alphabetic", "fontSize": 26, "font": "Liberation Sans", "color": "#111"},
      "encoding": {
        "x": {"field": "km", "type": "quantitative", "axis": null},
        "y": {"field": "m", "type": "quantitative", "axis": null},
        "text": {"field": "name"}
      }
    }
  ]
}
